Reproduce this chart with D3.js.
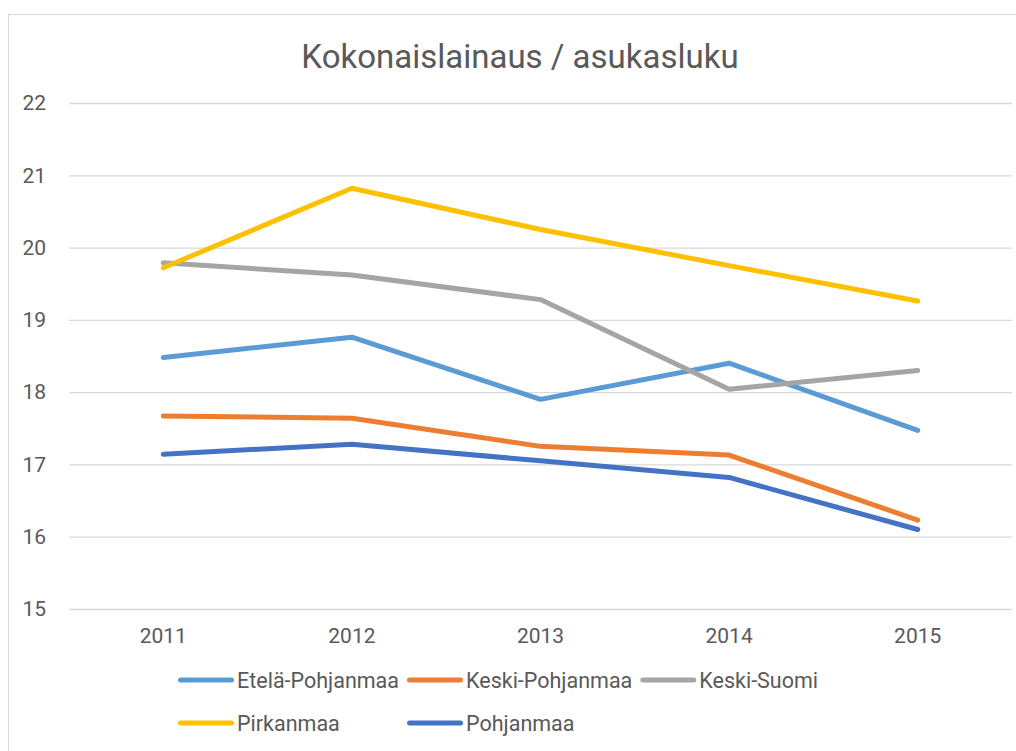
<!DOCTYPE html>
<html>
<head>
<meta charset="utf-8">
<script src="https://cdn.jsdelivr.net/npm/d3@7"></script>
<style>
	body { margin: 0; background: #fff; }
	text { font-family: Roboto, "Open Sans", sans-serif; fill: #595959; }
</style>
</head>
<body>
<div id="chart"></div>
<script>
// data
var years = [ "2011", "2012", "2013", "2014", "2015" ];
var seriesNames = [ "Etelä-Pohjanmaa", "Keski-Pohjanmaa", "Keski-Suomi", "Pirkanmaa", "Pohjanmaa" ];
var seriesColors = [ "#5b9bd5", "#ed7d31", "#a5a5a5", "#ffc000", "#4472c4" ];
var etelaPohjanmaa = [ 18.48, 18.76, 17.90, 18.40, 17.47 ];
var keskiPohjanmaa = [ 17.67, 17.64, 17.25, 17.13, 16.23 ];
var keskiSuomi = [ 19.79, 19.62, 19.28, 18.04, 18.30 ];
var pirkanmaa = [ 19.72, 20.82, 20.25, 19.75, 19.26 ];
var pohjanmaa = [ 17.14, 17.28, 17.05, 16.82, 16.10 ];
var yTicks = [ 15, 16, 17, 18, 19, 20, 21, 22 ];

var allSeries = [ etelaPohjanmaa, keskiPohjanmaa, keskiSuomi, pirkanmaa, pohjanmaa ];

var dimensions = {
	width: 1016,
	height: 751,
	margin: { top: 103, right: 4, bottom: 142, left: 69 }
};
dimensions.boundedWidth = dimensions.width - dimensions.margin.left - dimensions.margin.right
dimensions.boundedHeight = dimensions.height - dimensions.margin.top - dimensions.margin.bottom

var svg = d3.select( "#chart" )
	.append( "svg" )
	.attr( "width", dimensions.width )
	.attr( "height", dimensions.height );

// chart frame
svg.append( "rect" )
	.attr( "x", 8.5 )
	.attr( "y", 14.5 )
	.attr( "width", 1020 )
	.attr( "height", 800 )
	.attr( "fill", "none" )
	.attr( "stroke", "#d9d9d9" );

svg.append( "text" )
	.attr( "x", 520 )
	.attr( "y", 68 )
	.attr( "text-anchor", "middle" )
	.style( "font-size", "33px" )
	.text( "Kokonaislainaus / asukasluku" );

var bounds = svg.append( "g" )
	.attr( "transform", `translate(${dimensions.margin.left},${dimensions.margin.top})` );

var xScale = d3.scaleBand()
	.domain( years )
	.range( [ 0, dimensions.boundedWidth ] );

var yScale = d3.scaleLinear()
	.domain( [ 15, 22 ] )
	.range( [ dimensions.boundedHeight, 0 ] );

// gridlines + y labels
var yAxis = bounds.append( "g" )
	.call( d3.axisLeft( yScale )
		.tickValues( yTicks )
		.tickSize( -dimensions.boundedWidth )
		.tickPadding( 23 )
		.tickFormat( d3.format( "d" ) ) )
	.call( g => g.select( ".domain" ).remove() );

yAxis.selectAll( "line" )
	.attr( "stroke", "#d9d9d9" )
	.attr( "stroke-width", 1.3 );

yAxis.selectAll( "text" )
	.style( "font-size", "21px" )
	.style( "font-family", "Roboto, sans-serif" )
	.attr( "fill", "#595959" );

var xAxis = bounds.append( "g" )
	.attr( "transform", `translate(0, ${dimensions.boundedHeight})` )
	.call( d3.axisBottom( xScale ).tickSize( 0 ).tickPadding( 19 ) )
	.call( g => g.select( ".domain" ).remove() );

xAxis.selectAll( "text" )
	.style( "font-size", "21px" )
	.style( "font-family", "Roboto, sans-serif" )
	.attr( "fill", "#595959" );

var line = d3.line()
	.x( ( d, i ) => xScale( years[ i ] ) + xScale.bandwidth() / 2 )
	.y( d => yScale( d ) );

bounds.selectAll( ".series" )
	.data( allSeries )
	.enter()
	.append( "path" )
	.attr( "class", "series" )
	.attr( "d", d => line( d ) )
	.attr( "fill", "none" )
	.attr( "stroke", ( d, i ) => seriesColors[ i ] )
	.attr( "stroke-width", 5 )
	.attr( "stroke-linecap", "round" )
	.attr( "stroke-linejoin", "round" );

// legend, excel style grid with 3 columns
var legend = svg.append( "g" );
var cols = 3;
var items = legend.selectAll( ".item" )
	.data( seriesNames )
	.enter()
	.append( "g" )
	.attr( "class", "item" );

items.append( "line" )
	.attr( "x1", 2.5 )
	.attr( "x2", 53.5 )
	.attr( "stroke", ( d, i ) => seriesColors[ i ] )
	.attr( "stroke-width", 5 )
	.attr( "stroke-linecap", "round" );

items.append( "text" )
	.attr( "x", 59 )
	.attr( "y", 8 )
	.style( "font-size", "21.5px" )
	.text( d => d );

var widths = [];
items.each( function( d, i ) {
	var w = 59 + this.querySelector( "text" ).getComputedTextLength() + 8;
	var c = i % cols;
	widths[ c ] = Math.max( widths[ c ] || 0, w );
} );

items.attr( "transform", ( d, i ) => {
	var c = i % cols;
	var x = 178;
	for ( var k = 0; k < c; k++ ) x += widths[ k ];
	var y = 680 + Math.floor( i / cols ) * 43;
	return `translate(${x},${y})`;
} );
</script>
</body>
</html>
